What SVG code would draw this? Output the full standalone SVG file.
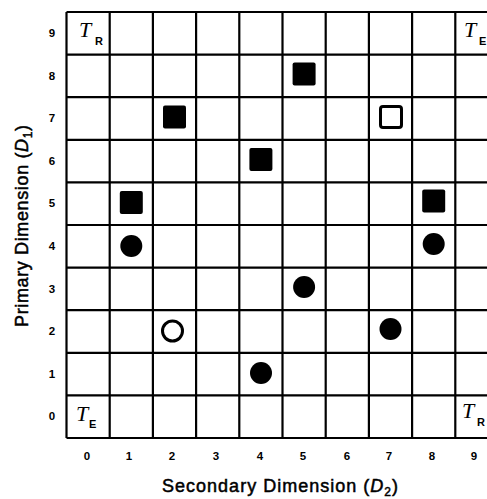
<svg xmlns="http://www.w3.org/2000/svg" width="487" height="499" viewBox="0 0 487 499">
<style>
.grid{stroke:#000;stroke-width:2.2;fill:none}
.num{font-family:"Liberation Sans",Arial,sans-serif;font-weight:bold;font-size:11.5px;fill:#000;text-anchor:middle}
.title{font-family:"Liberation Sans",Arial,sans-serif;font-size:18px;fill:#000;stroke:#000;stroke-width:0.5;text-anchor:middle}
.tee{font-family:"Liberation Serif","Times New Roman",serif;font-style:italic;font-size:22px;fill:#000}
.sub{font-family:"Liberation Sans",Arial,sans-serif;font-style:normal;font-weight:bold;font-size:11px;fill:#000}
.fs{fill:#000}
.os{fill:none;stroke:#000;stroke-width:3}
</style>
<defs>
<rect id="sq" x="-11.5" y="-11.5" width="23" height="23" rx="2"/>
</defs>
<rect width="487" height="499" fill="#fff"/>
<g id="grid" class="grid">
<path d="M66.5 12H498.5M66.5 54.6H498.5M66.5 97.2H498.5M66.5 139.8H498.5M66.5 182.4H498.5M66.5 225H498.5M66.5 267.6H498.5M66.5 310.2H498.5M66.5 352.8H498.5M66.5 395.4H498.5M66.5 438H498.5"/>
<path d="M66.5 12V438M109.7 12V438M152.9 12V438M196.1 12V438M239.3 12V438M282.5 12V438M325.7 12V438M368.9 12V438M412.1 12V438M455.3 12V438"/>
</g>
<g id="row-labels" class="num">
<text x="52" y="37">9</text>
<text x="52" y="80">8</text>
<text x="52" y="122">7</text>
<text x="52" y="165">6</text>
<text x="52" y="207">5</text>
<text x="52" y="250">4</text>
<text x="52" y="293">3</text>
<text x="52" y="335">2</text>
<text x="52" y="378">1</text>
<text x="52" y="420">0</text>
</g>
<g id="col-labels" class="num">
<text x="87" y="460">0</text>
<text x="129" y="460">1</text>
<text x="172" y="460">2</text>
<text x="216" y="460">3</text>
<text x="260" y="460">4</text>
<text x="303" y="460">5</text>
<text x="347" y="460">6</text>
<text x="389" y="460">7</text>
<text x="432" y="460">8</text>
<text x="474" y="460">9</text>
</g>
<g id="corner-labels">
<text class="tee" x="79" y="37">T<tspan class="sub" x="95" y="45">R</tspan></text>
<text class="tee" x="464" y="37">T<tspan class="sub" x="479" y="45">E</tspan></text>
<text class="tee" x="76" y="421">T<tspan class="sub" x="89" y="428">E</tspan></text>
<text class="tee" x="462" y="418">T<tspan class="sub" x="477" y="426">R</tspan></text>
</g>
<g id="squares">
<use href="#sq" class="fs" x="304.1" y="74"/>
<use href="#sq" class="fs" x="174.5" y="117"/>
<use href="#sq" class="fs" x="260.9" y="159.5"/>
<use href="#sq" class="fs" x="131.3" y="202.5"/>
<use href="#sq" class="fs" x="433.7" y="201"/>
<rect class="os" x="380.5" y="106.5" width="21" height="21" rx="2.5"/>
</g>
<g id="circles">
<circle class="fs" cx="131.3" cy="246" r="11"/>
<circle class="fs" cx="433.7" cy="244" r="11"/>
<circle class="fs" cx="304.1" cy="287" r="11"/>
<circle class="fs" cx="390.5" cy="329" r="11"/>
<circle class="fs" cx="261" cy="373" r="11"/>
<circle class="os" cx="172.5" cy="331" r="10"/>
</g>
<text id="x-title" class="title" x="280" y="492" textLength="236" lengthAdjust="spacing">Secondary Dimension (<tspan font-style="italic">D</tspan><tspan font-size="12" dy="4">2</tspan><tspan dy="-4">)</tspan></text>
<text id="y-title" class="title" transform="translate(28,226) rotate(-90)" x="0" y="0" textLength="202" lengthAdjust="spacing">Primary Dimension (<tspan font-style="italic">D</tspan><tspan font-size="12" dy="4">1</tspan><tspan dy="-4">)</tspan></text>
</svg>
